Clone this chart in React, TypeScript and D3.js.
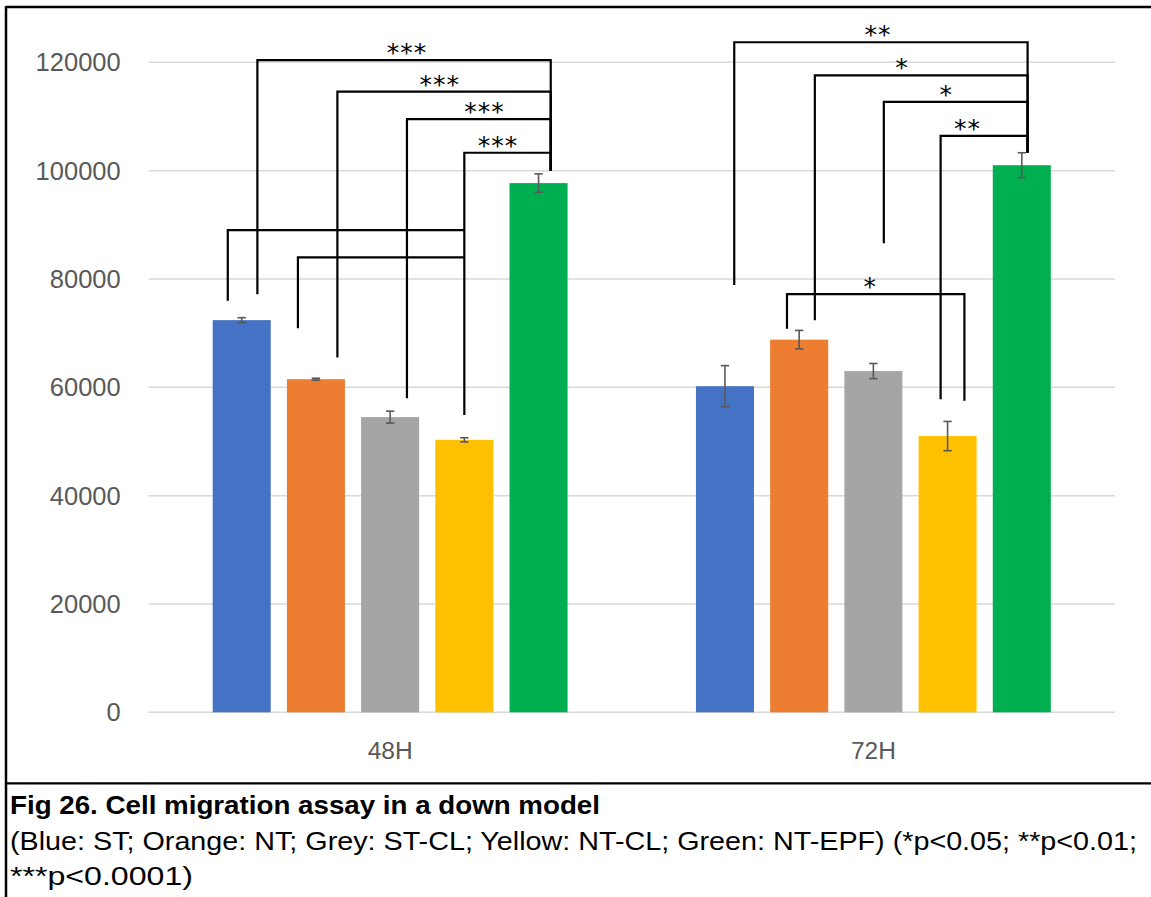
import React from "react";
import * as d3 from "d3";

const groups = ["48H", "72H"];
const series = ["ST", "NT", "ST-CL", "NT-CL", "NT-EPF"];
const seriesColors = ["#4472C4", "#ED7D31", "#A5A5A5", "#FFC000", "#00B050"];
const means48 = [72400, 61500, 54500, 50300, 97700];
const errs48 = [450, 180, 1100, 380, 1700];
const means72 = [60200, 68800, 63000, 51000, 101000];
const errs72 = [3800, 1700, 1400, 2700, 2300];
const yTicks = [0, 20000, 40000, 60000, 80000, 100000, 120000];

// significance brackets: group, left bar (+offset in bar widths), right bar (+offset), level, drop ends, label, label anchor fraction
const bracketGroup = [0, 0, 0, 0, 0, 0, 1, 1, 1, 1, 1];
const bracketLeftBar = [0, 1, 2, 3, 0, 1, 0, 1, 2, 3, 1];
const bracketLeftOff = [0.27, 0.37, 0.29, 0.0, -0.24, -0.31, 0.16, 0.27, 0.18, -0.12, -0.21];
const bracketRightBar = [4, 4, 4, 4, 3, 3, 4, 4, 4, 4, 3];
const bracketRightOff = [0.21, 0.21, 0.21, 0.21, 0.0, 0.0, 0.1, 0.1, 0.1, 0.1, 0.29];
const bracketLevel = [120400, 114600, 109500, 103300, 89000, 84000, 123700, 117600, 112700, 106400, 77200];
const bracketLeftEnd = [77200, 65500, 58000, 54900, 76000, 70900, 78900, 72400, 86600, 57800, 70800];
const bracketRightEnd = [100000, 100000, 100000, 100000, 89000, 84000, 103300, 103300, 103300, 103300, 57500];
const bracketLabel = ["***", "***", "***", "***", "", "", "**", "*", "*", "**", "*"];
const bracketLabelT = [0.51, 0.48, 0.54, 0.39, 0.5, 0.5, 0.49, 0.41, 0.435, 0.31, 0.47];

const captionTitle = "Fig 26. Cell migration assay in a down model";
const captionLine2 =
  "(Blue: ST; Orange: NT; Grey: ST-CL; Yellow: NT-CL; Green: NT-EPF) (*p<0.05; **p<0.01;";
const captionLine3 = "***p<0.0001)";

const W = 1151;
const H = 897;
const plotLeft = 148.5;
const plotRight = 1115;
const yZero = 712.3;
const yTop = 62.3;

export default function App() {
  const means = [means48, means72];
  const errs = [errs48, errs72];

  const x0 = d3.scaleBand<string>().domain(groups).range([plotLeft, plotRight]).padding(0);
  const x1 = d3
    .scaleBand<string>()
    .domain(series)
    .range([0, x0.bandwidth()])
    .paddingInner(0.218)
    .paddingOuter(0.865);
  const y = d3.scaleLinear().domain([0, 120000]).range([yZero, yTop]);
  const bw = x1.bandwidth();

  const barCenter = (g: number, s: number) =>
    (x0(groups[g]) as number) + (x1(series[s]) as number) + bw / 2;

  const axisFont = "'Liberation Sans', Arial, sans-serif";

  return (
    <svg
      width={W}
      height={H}
      style={{ position: "absolute", left: 0, top: 0, background: "#fff" }}
      xmlns="http://www.w3.org/2000/svg"
    >
      <rect x={0} y={0} width={W} height={H} fill="#fff" />
      {/* frame */}
      <line x1={6} y1={7} x2={W} y2={7} stroke="#000" strokeWidth={2.5} />
      <line x1={6} y1={6} x2={6} y2={H} stroke="#000" strokeWidth={2.5} />
      <line x1={6} y1={783.3} x2={W} y2={783.3} stroke="#000" strokeWidth={2.2} />

      {/* gridlines */}
      {yTicks.map((t) => (
        <line
          key={"g" + t}
          x1={plotLeft}
          x2={plotRight}
          y1={y(t)}
          y2={y(t)}
          stroke="#D9D9D9"
          strokeWidth={1.5}
        />
      ))}
      {/* y tick labels */}
      {yTicks.map((t) => (
        <text
          key={"t" + t}
          x={120.7}
          y={y(t) + 9.1}
          textAnchor="end"
          fontFamily={axisFont}
          fontSize={25.5}
          fill="#595959"
        >
          {t}
        </text>
      ))}

      {/* bars */}
      {groups.map((g, gi) =>
        series.map((s, si) => (
          <rect
            key={g + s}
            x={(x0(g) as number) + (x1(s) as number)}
            y={y(means[gi][si])}
            width={bw}
            height={y(0) - y(means[gi][si])}
            fill={seriesColors[si]}
          />
        ))
      )}

      {/* error bars */}
      {groups.map((g, gi) =>
        series.map((s, si) => {
          const cx = barCenter(gi, si);
          const hi = y(means[gi][si] + errs[gi][si]);
          const lo = y(means[gi][si] - errs[gi][si]);
          return (
            <g key={"e" + g + s} stroke="#595959" strokeWidth={1.6}>
              <line x1={cx} x2={cx} y1={hi} y2={lo} />
              <line x1={cx - 4.2} x2={cx + 4.2} y1={hi} y2={hi} />
              <line x1={cx - 4.2} x2={cx + 4.2} y1={lo} y2={lo} />
            </g>
          );
        })
      )}

      {/* category labels */}
      {groups.map((g) => (
        <text
          key={"c" + g}
          x={(x0(g) as number) + x0.bandwidth() / 2}
          y={759.3}
          textAnchor="middle"
          fontFamily={axisFont}
          fontSize={24.5}
          fill="#595959"
        >
          {g}
        </text>
      ))}

      {/* significance brackets */}
      {bracketLevel.map((lvl, i) => {
        const g = bracketGroup[i];
        const xl = barCenter(g, bracketLeftBar[i]) + bracketLeftOff[i] * bw;
        const xr = barCenter(g, bracketRightBar[i]) + bracketRightOff[i] * bw;
        const yl = y(lvl);
        const path = `M${xl},${y(bracketLeftEnd[i])}L${xl},${yl}L${xr},${yl}L${xr},${y(
          bracketRightEnd[i]
        )}`;
        const lx = xl + bracketLabelT[i] * (xr - xl);
        return (
          <g key={"b" + i}>
            <path d={path} fill="none" stroke="#000" strokeWidth={2.2} />
            {bracketLabel[i] && (
              <text
                x={lx}
                y={yl + 1}
                textAnchor="middle"
                fontFamily="'DejaVu Sans', sans-serif"
                fontSize={25}
                letterSpacing={1}
                fill="#000"
              >
                {bracketLabel[i]}
              </text>
            )}
          </g>
        );
      })}

      {/* caption */}
      <text
        x={10}
        y={814}
        fontFamily={axisFont}
        fontWeight="bold"
        fontSize={26}
        fill="#000"
        textLength={590}
        lengthAdjust="spacingAndGlyphs"
      >
        {captionTitle}
      </text>
      <text
        x={10}
        y={850}
        fontFamily={axisFont}
        fontSize={26}
        fill="#000"
        textLength={1127}
        lengthAdjust="spacingAndGlyphs"
      >
        {captionLine2}
      </text>
      <text
        x={10}
        y={885}
        fontFamily={axisFont}
        fontSize={26}
        fill="#000"
        textLength={183}
        lengthAdjust="spacingAndGlyphs"
      >
        {captionLine3}
      </text>
    </svg>
  );
}
